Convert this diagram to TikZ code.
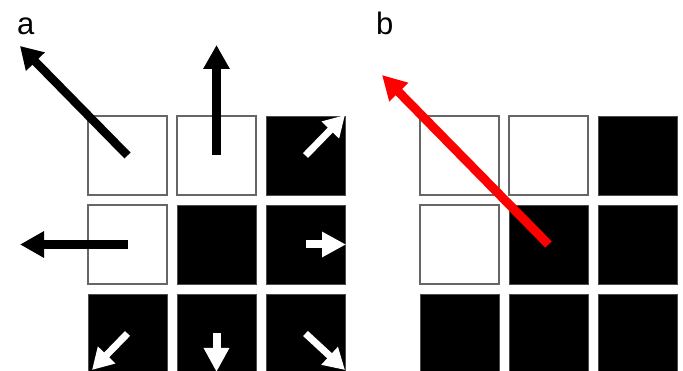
\documentclass[tikz,border=0pt]{standalone}
\usepackage{fontspec}
\setmainfont{Liberation Sans}
\usetikzlibrary{arrows.meta}
\begin{document}
\begin{tikzpicture}[x=1pt,y=-1pt,
  cell/.style={rectangle,minimum size=79pt,inner sep=0pt,draw=black!60,line width=1.2pt},
  sqw/.style={cell,fill=white},
  sqb/.style={cell,fill=black,draw=black!70,line width=0.8pt},
  blackarrow/.style={draw=black,line width=8.5pt,-{Triangle[length=24pt,width=25pt]}},
  blackdiag/.style={draw=black,line width=8.5pt,-{Triangle[length=22pt,width=25pt]}},
  whitearrow/.style={draw=white,line width=8pt,-{Triangle[length=24pt,width=24pt]}},
  whitediag/.style={draw=white,line width=7pt,-{Triangle[length=21pt,width=23pt]}},
  redarrow/.style={draw=red,line width=9pt,-{Triangle[length=24pt,width=25pt]}},
  panellabel/.style={anchor=base west,inner sep=0pt,font=\fontsize{31}{31}\selectfont}
]
\clip (0,0) rectangle (683,371);
\fill[white] (0,0) rectangle (683,371);
% panel a
\node[sqw] (a11) at (127.5,155.5) {};
\node[sqw] (a12) at (216.5,155.5) {};
\node[sqb] (a13) at (305.5,155.5) {};
\node[sqw] (a21) at (127.5,244.5) {};
\node[sqb] (a22) at (216.5,244.5) {};
\node[sqb] (a23) at (305.5,244.5) {};
\node[sqb] (a31) at (127.5,333.5) {};
\node[sqb] (a32) at (216.5,333.5) {};
\node[sqb] (a33) at (305.5,333.5) {};
% panel b
\node[sqw] (b11) at (459.5,155.5) {};
\node[sqw] (b12) at (548.5,155.5) {};
\node[sqb] (b13) at (637.5,155.5) {};
\node[sqw] (b21) at (459.5,244.5) {};
\node[sqb] (b22) at (548.5,244.5) {};
\node[sqb] (b23) at (637.5,244.5) {};
\node[sqb] (b31) at (459.5,333.5) {};
\node[sqb] (b32) at (548.5,333.5) {};
\node[sqb] (b33) at (637.5,333.5) {};
% arrow end points
\coordinate (t11) at (20,46);
\coordinate (t12) at (216.5,45);
\coordinate (t13) at (345,115);
\coordinate (t21) at (20,244.5);
\coordinate (t23) at (346,244.5);
\coordinate (t31) at (92,370);
\coordinate (t32) at (216.5,372);
\coordinate (t33) at (345,370);
\coordinate (tb) at (382,75);
\draw[blackdiag] (a11.center) -- (t11);
\draw[blackarrow] (a12.center) -- (t12);
\draw[whitediag] (a13.center) -- (t13);
\draw[blackarrow] (a21.center) -- (t21);
\draw[whitearrow] (a23.center) -- (t23);
\draw[whitediag] (a31.center) -- (t31);
\draw[whitearrow] (a32.center) -- (t32);
\draw[whitediag] (a33.center) -- (t33);
\draw[redarrow] (b22.center) -- (tb);
% labels
\node[panellabel] (la) at (17,35) {a};
\node[panellabel] (lb) at (376,35) {b};
\end{tikzpicture}
\end{document}
